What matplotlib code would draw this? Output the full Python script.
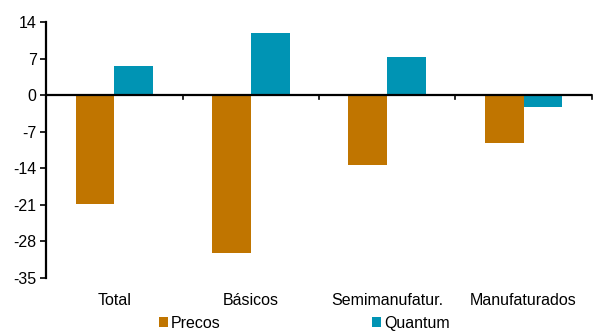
import numpy as np
import matplotlib
matplotlib.use('Agg')
import matplotlib.pyplot as plt

plt.rcParams['font.family'] = ['Liberation Sans', 'DejaVu Sans']
plt.rcParams['axes.unicode_minus'] = False

categorias = ['Total', 'Básicos', 'Semimanufatur.', 'Manufaturados']
precos = [-20.8, -30.3, -13.4, -9.2]
quantum = [5.6, 11.9, 7.3, -2.2]
yticks = [14, 7, 0, -7, -14, -21, -28, -35]

cor_precos = '#C07500'
cor_quantum = '#0094B4'

fig = plt.figure(figsize=(5.93, 3.31), dpi=100)
ax = fig.add_axes([0.078, 0.16, 0.92, 0.7735])

x = np.arange(len(categorias))
w = 0.285
ax.bar(x - w / 2, precos, width=w, color=cor_precos, label='Precos', zorder=2)
ax.bar(x + w / 2, quantum, width=w, color=cor_quantum, label='Quantum', zorder=2)

ax.set_xlim(-0.5, len(categorias) - 0.5)
ax.set_ylim(-35, 14)
ax.set_yticks(yticks)
ax.tick_params(axis='y', direction='out', length=4, width=1.2, labelsize=11.5, pad=3)

# eixo horizontal no zero, com marcas entre categorias
ax.axhline(0, color='black', linewidth=1.6, zorder=3)
for b in np.arange(len(categorias) + 1) - 0.5:
    ax.plot([b, b], [0, -0.7], color='black', linewidth=1.2, zorder=3, clip_on=False)

ax.set_xticks(x)
ax.set_xticklabels(categorias)
ax.tick_params(axis='x', length=0, labelsize=11.5, pad=11)

for s in ['top', 'right', 'bottom']:
    ax.spines[s].set_visible(False)
ax.spines['left'].set_linewidth(1.6)

fig.legend(loc='lower left', bbox_to_anchor=(0.257, -0.018), ncol=2, frameon=False,
           fontsize=11.5, handlelength=0.55, handleheight=0.55, handletextpad=0.2,
           columnspacing=9.5, borderaxespad=0)

fig.savefig('out.png', dpi=100)
